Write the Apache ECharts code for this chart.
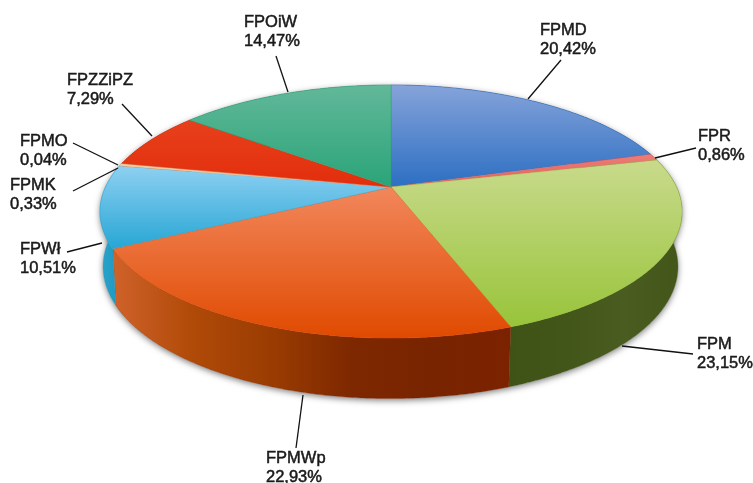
<!DOCTYPE html>
<html>
<head>
<meta charset="utf-8">
<style>
  html, body { margin: 0; padding: 0; background: #fff; }
  #chart { width: 753px; height: 483px; }
</style>
</head>
<body>
<div id="chart"></div>
<script src="https://cdn.jsdelivr.net/npm/echarts@6/dist/echarts.min.js"></script>
<script>
// data, clockwise from the top of the pie
const categories = ["FPMD", "FPR", "FPM", "FPMWp", "FPWł", "FPMK", "FPMO", "FPZZiPZ", "FPOiW"];
const values = [20.42, 0.86, 23.15, 22.93, 10.51, 0.33, 0.04, 7.29, 14.47];

// colours: top surface [light, dark], side wall left to right
const topColors = [
  ["#86a3da", "#2c6fc2"], ["#ec7d78", "#e4605a"], ["#c9da8c", "#98c43a"],
  ["#f2875c", "#e04a00"], ["#8fd0f2", "#26a6d4"], ["#f0cfa8", "#e6b888"],
  ["#e0a888", "#d89878"], ["#e8401c", "#e22e0c"], ["#62b89a", "#2aa478"]
];
const wallColors = [
  ["#1f4a86", "#1f4a86"], ["#a04040", "#a04040"], ["#3f5317", "#43561a", "#4a5c20", "#43561a"],
  ["#d0622a", "#b04a08", "#9a3c02", "#7e2800", "#782400", "#7c2200"],
  ["#2aa4cc", "#1f94bc"], ["#b08a60", "#b08a60"],
  ["#a07858", "#a07858"], ["#a02408", "#a02408"], ["#1e7a58", "#1e7a58"]
];

// label box left/top and leader line ends
const labelPos = [[540, 21], [698, 127], [697, 335], [266, 449], [20, 240], [10, 176], [20, 132], [67, 71], [244, 13]];
const leaders = [
  [[561, 60], [528, 99]], [[696, 148], [655, 158]], [[693, 354], [622, 346]],
  [[296, 448], [303, 395]], [[67, 252], [102, 243]], [[73, 191], [118, 168]],
  [[73, 143], [118, 165]], [[122, 104], [152, 136]], [[276, 56], [288, 92]]
];

// pie projection (tilted circle in perspective), top face and lower rim
const topFace = { x: 391, y: 187, a: 285.5, b: 121.8 };
const lowFace = { x: 390.5, y: 241, a: 282, b: 127 };
const persp = -0.194;

function project(deg, f) {
  const t = deg * Math.PI / 180;
  const X = Math.sin(t), Y = -Math.cos(t);
  const w = 1 + persp * Y;
  return [f.x + f.a * X / w, f.y + f.b * Y / w];
}
function arc(a0, a1, f) {
  const pts = [];
  const n = Math.max(2, Math.ceil((a1 - a0) / 0.5));
  for (let i = 0; i <= n; i++) pts.push(project(a0 + (a1 - a0) * i / n, f));
  return pts;
}
const total = values.reduce((s, v) => s + v, 0);
const starts = [];
values.reduce((s, v, i) => { starts[i] = s; return s + v; }, 0);
const angleOf = (p) => p / total * 360;

function grad(horizontal, c) {
  return new echarts.graphic.LinearGradient(0, 0, horizontal ? 1 : 0, horizontal ? 0 : 1,
    c.map((color, i) => ({ offset: i / (c.length - 1), color: color })));
}

function renderWall(params) {
  const i = params.dataIndex;
  const a0 = angleOf(starts[i]), a1 = angleOf(starts[i] + values[i]);
  const rim = arc(a0, a1, topFace);
  const low = arc(a0, a1, lowFace).reverse();
  const c = wallColors[i];
  return {
    type: "polygon",
    shape: { points: rim.concat(low) },
    style: { fill: grad(true, c), stroke: c[c.length - 1], lineWidth: 0.3 }
  };
}
function renderTop(params) {
  const i = params.dataIndex;
  const a0 = angleOf(starts[i]), a1 = angleOf(starts[i] + values[i]);
  return {
    type: "polygon",
    shape: { points: [[topFace.x, topFace.y]].concat(arc(a0, a1, topFace)) },
    style: { fill: grad(false, topColors[i]), stroke: topColors[i][1], lineWidth: 0.4 }
  };
}
function renderShadow() {
  return {
    type: "group",
    children: [arc(0, 360, topFace), arc(0, 360, lowFace)].map((pts) => ({
      type: "polygon",
      shape: { points: pts },
      style: { fill: "#ddd", shadowBlur: 6, shadowColor: "rgba(0,0,0,0.5)", shadowOffsetY: 2 }
    }))
  };
}
function renderLabel(params) {
  const i = params.dataIndex;
  return {
    type: "group",
    children: [
      {
        type: "line",
        shape: { x1: leaders[i][0][0], y1: leaders[i][0][1], x2: leaders[i][1][0], y2: leaders[i][1][1] },
        style: { stroke: "#111", lineWidth: 1.3 }
      },
      {
        type: "text",
        x: labelPos[i][0],
        y: labelPos[i][1],
        style: {
          text: categories[i] + "\n" + values[i].toFixed(2).replace(".", ",") + "%",
          font: "16.5px 'Liberation Sans'",
          lineHeight: 19,
          fill: "#1a1a1a",
          stroke: "#1a1a1a",
          lineWidth: 0.5
        }
      }
    ]
  };
}

const chart = echarts.init(document.getElementById("chart"), null, { renderer: "canvas" });
const base = { type: "custom", coordinateSystem: "none", silent: true, animation: false, data: values };
chart.setOption({
  backgroundColor: "#fff",
  animation: false,
  series: [
    Object.assign({}, base, { data: [0], renderItem: renderShadow }),
    Object.assign({}, base, { renderItem: renderWall }),
    Object.assign({}, base, { renderItem: renderTop }),
    Object.assign({}, base, { renderItem: renderLabel })
  ]
});
</script>
</body>
</html>
